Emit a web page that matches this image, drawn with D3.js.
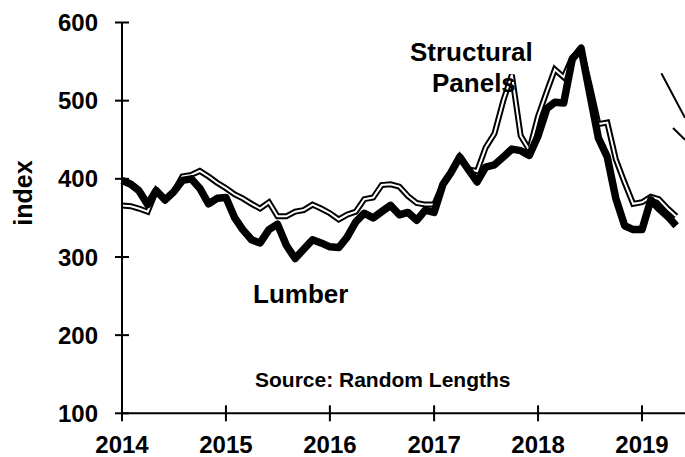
<!DOCTYPE html>
<html>
<head>
<meta charset="utf-8">
<script src="https://cdn.jsdelivr.net/npm/d3@7.9.0/dist/d3.min.js"></script>
<style>
  body { margin: 0; background: #fff; }
  svg text { font-family: "Liberation Sans", Arial, sans-serif; font-weight: bold; fill: #000; }
</style>
</head>
<body>
<svg id="chart" width="685" height="457"></svg>
<script>
// monthly index values, Jan 2014 .. May 2019
const lumber = [398, 393, 385, 367, 385, 373, 383, 398, 400, 388, 368, 375,
  376, 350, 335, 322, 318, 335, 342, 315, 298, 310, 322, 318,
  313, 312, 325, 345, 356, 350, 358, 366, 354, 357, 347, 360,
  357, 393, 408, 428, 412, 396, 415, 418, 428, 438, 436, 430,
  455, 490, 498, 497, 553, 567, 510, 452, 428, 375, 340, 335,
  335, 373, 362, 352, 340];

const panels = [366, 365, 362, 358, 385, 373, 383, 403, 405, 410, 403, 395,
  388, 380, 375, 368, 362, 370, 352, 352, 358, 360, 367, 362,
  356, 348, 354, 358, 374, 376, 392, 393, 390, 378, 369, 367,
  367, 393, 408, 428, 412, 410, 440, 458, 500, 533, 455, 437,
  480, 512, 540, 530, 555, 565, 520, 470, 472, 425, 395, 368,
  370, 377, 374, 362, 352];

const yTicks = [100, 200, 300, 400, 500, 600];
const xTickYears = [2014, 2015, 2016, 2017, 2018, 2019];

// cut-off strokes at the top right corner of the original
const strayLines = [
  [[new Date(2019, 2, 10), 535], [new Date(2019, 5, 1), 478]],
  [[new Date(2019, 3, 20), 465], [new Date(2019, 5, 1), 450]]
];

const months = d3.timeMonth.range(new Date(2014, 0, 1), new Date(2014, 0 + lumber.length, 1));

const svg = d3.select('#chart');

const x = d3.scaleTime()
  .domain([new Date(2014, 0, 1), new Date(2019, 5, 1)])
  .range([122, 685]);

const y = d3.scaleLinear()
  .domain([100, 600])
  .range([413.3, 22.5]);

const line = d3.line()
  .x((d, i) => x(months[i]))
  .y(d => y(d));

// panels: double line (black outline with white core)
svg.append('path')
  .attr('d', line(panels))
  .attr('fill', 'none')
  .attr('stroke', '#000')
  .attr('stroke-width', 6);

svg.append('path')
  .attr('d', line(panels))
  .attr('fill', 'none')
  .attr('stroke', '#fff')
  .attr('stroke-width', 2);

// lumber: thick black line
svg.append('path')
  .attr('d', line(lumber))
  .attr('fill', 'none')
  .attr('stroke', '#000')
  .attr('stroke-width', 7.5)
  .attr('stroke-linejoin', 'round');

svg.selectAll('.stray')
  .data(strayLines)
  .enter()
  .append('line')
  .attr('x1', d => x(d[0][0]))
  .attr('y1', d => y(d[0][1]))
  .attr('x2', d => x(d[1][0]))
  .attr('y2', d => y(d[1][1]))
  .attr('stroke', '#000')
  .attr('stroke-width', 2);

// axes
const yAxis = svg.append('g').attr('transform', 'translate(122,0)');
yAxis.append('line')
  .attr('y1', y(600)).attr('y2', y(100))
  .attr('stroke', '#000').attr('stroke-width', 2);
yAxis.selectAll('.tick')
  .data(yTicks)
  .enter()
  .append('line')
  .attr('x1', -7).attr('x2', 7)
  .attr('y1', d => y(d)).attr('y2', d => y(d))
  .attr('stroke', '#000').attr('stroke-width', 2);
yAxis.selectAll('text')
  .data(yTicks)
  .enter()
  .append('text')
  .attr('x', -24)
  .attr('y', d => y(d))
  .attr('dy', '0.36em')
  .attr('text-anchor', 'end')
  .style('font-size', '24px')
  .text(d => d);

const xAxis = svg.append('g').attr('transform', `translate(0,${y(100)})`);
xAxis.append('line')
  .attr('x1', x.range()[0]).attr('x2', x.range()[1])
  .attr('stroke', '#000').attr('stroke-width', 2);
xAxis.selectAll('.tick')
  .data(xTickYears)
  .enter()
  .append('line')
  .attr('x1', d => x(new Date(d, 0, 1))).attr('x2', d => x(new Date(d, 0, 1)))
  .attr('y1', -8).attr('y2', 8)
  .attr('stroke', '#000').attr('stroke-width', 2);
xAxis.selectAll('text')
  .data(xTickYears)
  .enter()
  .append('text')
  .attr('x', d => x(new Date(d, 0, 1)))
  .attr('y', 40)
  .attr('text-anchor', 'middle')
  .style('font-size', '24px')
  .text(d => d);

// axis title
svg.append('text')
  .attr('transform', 'translate(32,193) rotate(-90)')
  .attr('text-anchor', 'middle')
  .style('font-size', '25px')
  .text('index');

// series labels
svg.append('text').attr('x', 410).attr('y', 61).style('font-size', '26px').text('Structural');
svg.append('text').attr('x', 432).attr('y', 92).style('font-size', '26px').text('Panels');
svg.append('text').attr('x', 253).attr('y', 303).style('font-size', '26px').text('Lumber');
svg.append('text').attr('x', 255).attr('y', 387).style('font-size', '21px').text('Source: Random Lengths');
</script>
</body>
</html>
